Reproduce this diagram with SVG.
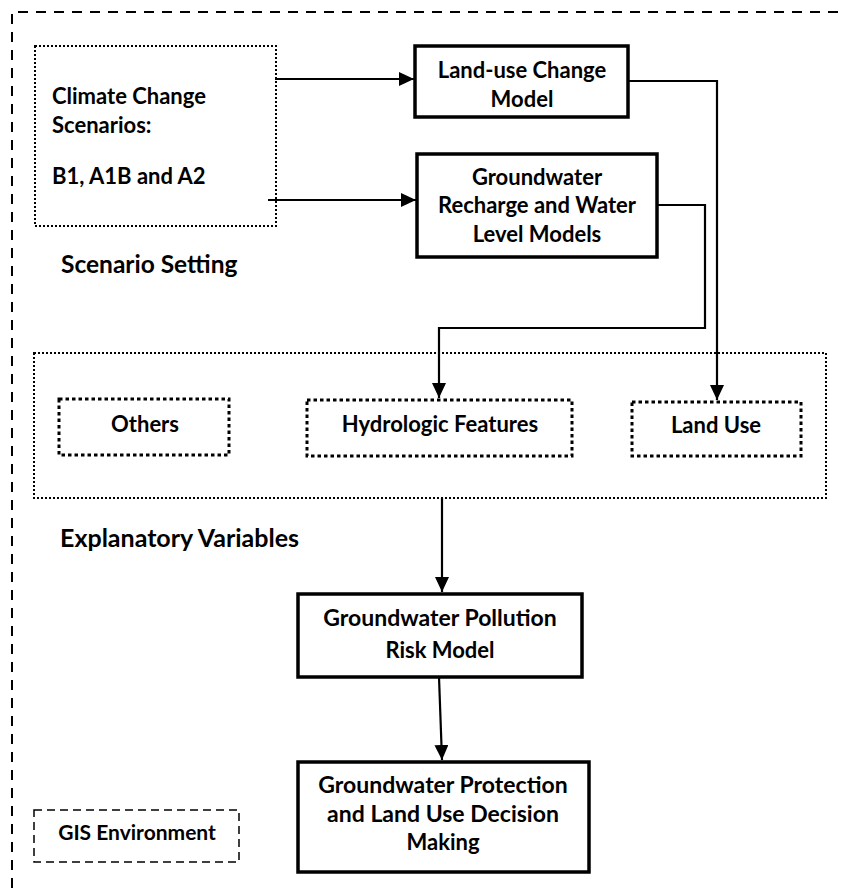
<svg xmlns="http://www.w3.org/2000/svg" width="843" height="888" viewBox="0 0 843 888">
<style>
text{font-family:Lato,"Open Sans","Liberation Sans",sans-serif;font-weight:bold;fill:#000;font-size:22px;}
.c{text-anchor:middle;}
.box{fill:#fff;stroke:#000;stroke-width:3.5;}
.dot{fill:none;stroke:#000;stroke-width:2;stroke-dasharray:2 2;}
.dot3{fill:#fff;stroke:#000;stroke-width:3;stroke-dasharray:3.5 3;}
.dash{fill:none;stroke:#000;stroke-width:2;stroke-dasharray:10 8;}
.dash2{fill:#fff;stroke:#000;stroke-width:1.5;stroke-dasharray:8 5;}
.conn{fill:none;stroke:#000;stroke-width:2.2;}
</style>
<defs>
<marker id="ah" markerUnits="userSpaceOnUse" markerWidth="16" markerHeight="14" refX="15" refY="7" orient="auto">
<path d="M0,0 L15,7 L0,14 Z" fill="#000"/>
</marker>
</defs>
<rect width="843" height="888" fill="#fff"/>
<g id="gis-frame">
<path class="dash" d="M12,888 V12 H838"/>
</g>
<g id="scenario">
<rect class="dot" x="35" y="46" width="241" height="180"/>
<text x="52" y="104">Climate Change</text>
<text x="52" y="133">Scenarios:</text>
<text x="52" y="184">B1, A1B and A2</text>
</g>
<g id="scenario-label"><text x="61" y="273" style="font-size:24.5px">Scenario Setting</text></g>
<g id="landuse-model">
<rect class="box" x="415" y="46" width="213" height="71"/>
<text class="c" x="522" y="78">Land-use Change</text>
<text class="c" x="522" y="107">Model</text>
</g>
<g id="recharge-model">
<rect class="box" x="417" y="154" width="240" height="103"/>
<text class="c" x="537" y="185">Groundwater</text>
<text class="c" x="537" y="213">Recharge and Water</text>
<text class="c" x="537" y="242">Level Models</text>
</g>
<g id="explanatory">
<rect class="dot" x="34" y="353" width="792" height="145"/>
</g>
<g id="others">
<rect class="dot3" x="59" y="399" width="170" height="56"/>
<text class="c" x="145" y="432">Others</text>
</g>
<g id="hydrologic">
<rect class="dot3" x="307" y="400" width="265" height="56"/>
<text class="c" x="440" y="432">Hydrologic Features</text>
</g>
<g id="landuse">
<rect class="dot3" x="632" y="402" width="169" height="54"/>
<text class="c" x="716" y="433">Land Use</text>
</g>
<g id="explanatory-label"><text x="60" y="547" style="font-size:25px">Explanatory Variables</text></g>
<g id="pollution-model">
<rect class="box" x="298" y="594" width="284" height="83"/>
<text class="c" x="440" y="626" style="font-size:23px">Groundwater Pollution</text>
<text class="c" x="440" y="658">Risk Model</text>
</g>
<g id="decision">
<rect class="box" x="298" y="762" width="291" height="110"/>
<text class="c" x="443" y="793" style="font-size:23px">Groundwater Protection</text>
<text class="c" x="443" y="822" style="font-size:23px">and Land Use Decision</text>
<text class="c" x="443" y="850">Making</text>
</g>
<g id="gis-legend">
<rect class="dash2" x="34" y="810" width="205" height="52"/>
<text class="c" x="137" y="840" style="font-size:21px">GIS Environment</text>
</g>
<g id="connectors">
<path class="conn" d="M275,79 H414" marker-end="url(#ah)"/>
<path class="conn" d="M268,200 H416" marker-end="url(#ah)"/>
<path class="conn" d="M628,81 H717 V400" marker-end="url(#ah)"/>
<path class="conn" d="M657,205 H705 V328 H439 V398" marker-end="url(#ah)"/>
<path class="conn" d="M442,498 V592" marker-end="url(#ah)"/>
<path class="conn" d="M439,677 L442,760" marker-end="url(#ah)"/>
</g>
</svg>
